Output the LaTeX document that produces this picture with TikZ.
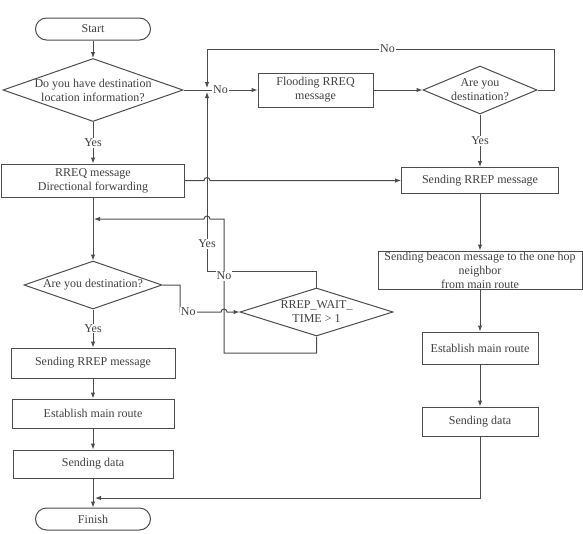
\documentclass[tikz,border=0pt]{standalone}
\usepackage{fontspec}
\setmainfont{Liberation Serif}
\usetikzlibrary{shapes.geometric,arrows.meta}

\begin{document}
\begin{tikzpicture}[x=1pt, y=-1pt,
    every node/.style={font=\fontsize{12}{14}\selectfont, text=black!75},
    box/.style={draw=black!70, line width=1pt, rectangle, align=center, inner sep=0pt},
    term/.style={box, rounded corners=11pt, minimum width=115pt, minimum height=22pt},
    decision/.style={draw=black!70, line width=1pt, diamond, inner sep=0pt},
    lbl/.style={fill=white, inner sep=1pt},
    flow/.style={draw=black!70, line width=1pt, -{Latex[length=6pt,width=4.5pt]}}]
    \useasboundingbox (0,0) rectangle (583,533);
    % left column
    \node[term] (start) at (93,29) {Start};
    \node[decision, minimum width=180pt, minimum height=63pt] (d1) at (93,90) {};
    \node[align=center] (d1t) at (d1) {Do you have destination\\location information?};
    \node[box, minimum width=183pt, minimum height=33pt] (rreq) at (93,180.5) {RREQ message\\Directional forwarding};
    \node[decision, minimum width=138pt, minimum height=48pt] (d3) at (93,285) {};
    \node (d3t) at (d3) {Are you destination?};
    \node[box, minimum width=164pt, minimum height=30pt] (lsend) at (93,363) {Sending RREP message};
    \node[box, minimum width=162pt, minimum height=29pt] (lest) at (93,413.5) {Establish main route};
    \node[box, minimum width=160pt, minimum height=28pt] (ldata) at (93,464) {Sending data};
    \node[term] (finish) at (93,519) {Finish};
    % right column
    \node[box, minimum width=115pt, minimum height=34pt] (flood) at (315.5,90) {Flooding RREQ\\message};
    \node[decision, minimum width=114pt, minimum height=48pt] (d2) at (480,90) {};
    \node[align=center] (d2t) at (d2) {Are you\\destination?};
    \node[box, minimum width=157pt, minimum height=26pt] (rsend) at (480,180.5) {Sending RREP message};
    \node[box, minimum width=204pt, minimum height=38pt] (beacon) at (480,270) {Sending beacon message to the one hop\\neighbor\\from main route};
    \node[box, minimum width=116pt, minimum height=32pt] (rest) at (480,348) {Establish main route};
    \node[box, minimum width=116pt, minimum height=29pt] (rdata) at (480,421.5) {Sending data};
    % waiting check
    \node[decision, minimum width=153pt, minimum height=48pt] (d4) at (316.5,312) {};
    \node[align=center] (d4t) at (d4) {RREP\_WAIT\_\\TIME > 1};
    \coordinate (jn) at (207,90);
    \coordinate (mg) at (93,219);
    \coordinate (fin) at (93,498);
    % main flow
    \draw[flow] (start) -- (d1);
    \draw[flow] (d1) -- node[lbl] (y1) {Yes} (rreq);
    \draw[flow] (d1) -- node[lbl] (n1) {No} (flood);
    \draw[flow] (flood) -- (d2);
    \draw[flow, shorten >=2pt] (d2.east) -- (554,90) -- (554,49) -- node[lbl, pos=0.48] (n2) {No} (207,49) -- (jn);
    \draw[flow] (d2) -- node[lbl] (y2) {Yes} (rsend);
    \draw[flow] (rreq.east) -- (204,180.5) arc[start angle=180, end angle=0, radius=3pt] -- (rsend.west);
    \draw[flow] (rsend) -- (beacon);
    \draw[flow] (beacon) -- (rest);
    \draw[flow] (rest) -- (rdata);
    \draw[flow, shorten >=2pt] (rdata.south) -- (480,498) -- (fin);
    \draw[flow] (rreq) -- (d3);
    \draw[flow] (d3) -- node[lbl] (y3) {Yes} (lsend);
    \draw[flow] (lsend) -- (lest);
    \draw[flow] (lest) -- (ldata);
    \draw[flow] (ldata) -- (finish);
    % destination check fails: wait for RREP
    \draw[flow] (d3.east) -- (180,285) -- (180,312) -- node[lbl, pos=0.2] (n3) {No} (221,312) arc[start angle=180, end angle=0, radius=3pt] -- (d4.west);
    \draw[flow, shorten >=2pt] (d4.north) -- (316.5,271) -- (207,271) -- node[lbl, pos=0.15] (y4) {Yes} (jn);
    \draw[flow, shorten >=1pt] (d4.south) -- (316.5,353) -- (224,353) -- node[lbl, pos=0.575] (n4) {No} (224,219) -- (210,219) arc[start angle=0, end angle=180, radius=3pt] -- (mg);
\end{tikzpicture}
\end{document}
